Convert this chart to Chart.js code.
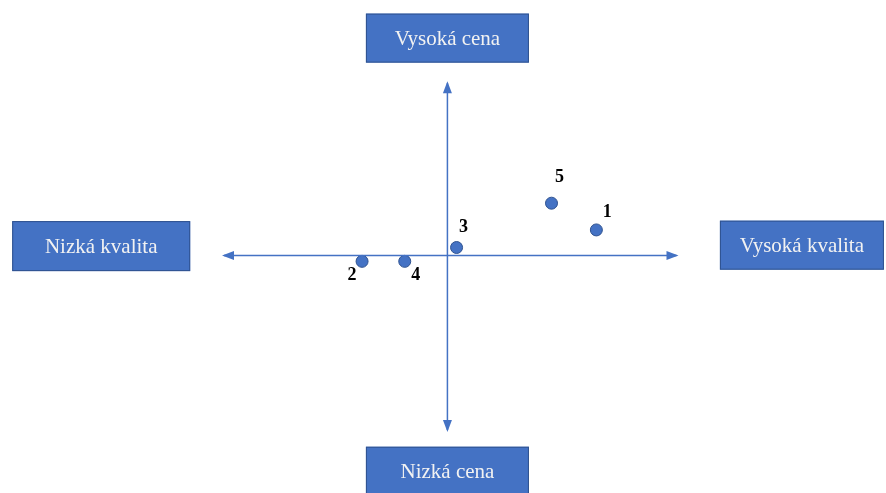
<!DOCTYPE html>
<html lang="cs">
<head>
<meta charset="UTF-8">
<title>Poziční mapa</title>
<script src="https://cdn.jsdelivr.net/npm/chart.js@4.4.1/dist/chart.umd.min.js"></script>
<style>
  body { margin: 0; background: #fff; }
  #wrap { width: 886px; height: 493px; }
</style>
</head>
<body>
<div id="wrap"><canvas id="mapa" width="886" height="493"></canvas></div>
<script>
// body na mape (kvalita = x, cena = y)
const names = ['1', '2', '3', '4', '5'];
const quality = [3.42, -1.96, 0.21, -0.98, 2.39];
const price = [1.09, -0.25, 0.34, -0.25, 2.23];

// osy
const axisX = [-5.13, 5.26];
const axisY = [-7.44, 7.35];

// popisky os
const boxTexts = ['Nizká kvalita', 'Vysoká kvalita', 'Vysoká cena', 'Nizká cena'];
const boxX = [-7.95, 8.14, 0, 0];
const boxY = [0.4, 0.44, 9.27, -9.2];

const blue = '#4472C4';
const dark = '#2F528F';

// posuny cisel u bodu v px
const labelShift = [[11, -18], [-10, 14], [7, -20], [11, 14], [8, -26]];
const boxSize = [[178, 50], [164, 49], [163, 49], [163, 49]];

const extras = {
  id: 'extras',
  afterDatasetsDraw(chart) {
    const ctx = chart.ctx;
    const xs = chart.scales.x, ys = chart.scales.y;
    ctx.save();

    // sipky na koncich os
    function arrow(x, y, dx, dy) {
      const len = 10, w = 4.5;
      ctx.beginPath();
      ctx.moveTo(x + dx * 2, y + dy * 2);
      ctx.lineTo(x - dx * len + dy * w, y - dy * len + dx * w);
      ctx.lineTo(x - dx * len - dy * w, y - dy * len - dx * w);
      ctx.closePath();
      ctx.fillStyle = blue;
      ctx.fill();
    }
    const cx = xs.getPixelForValue(0), cy = ys.getPixelForValue(0);
    arrow(xs.getPixelForValue(axisX[0]), cy, -1, 0);
    arrow(xs.getPixelForValue(axisX[1]), cy, 1, 0);
    arrow(cx, ys.getPixelForValue(axisY[1]), 0, -1);
    arrow(cx, ys.getPixelForValue(axisY[0]), 0, 1);

    // cisla bodu
    const meta = chart.getDatasetMeta(2);
    ctx.font = 'bold 18px "Liberation Serif", "Times New Roman", serif';
    ctx.fillStyle = '#000';
    ctx.textAlign = 'center';
    ctx.textBaseline = 'middle';
    meta.data.forEach((pt, i) => {
      ctx.fillText(names[i], pt.x + labelShift[i][0], pt.y + labelShift[i][1]);
    });

    // obdelniky s popisky
    ctx.font = '21px "Liberation Serif", "Times New Roman", serif';
    boxTexts.forEach((t, i) => {
      const bx = xs.getPixelForValue(boxX[i]);
      const by = ys.getPixelForValue(boxY[i]);
      const w = boxSize[i][0], h = boxSize[i][1];
      ctx.fillStyle = blue;
      ctx.fillRect(bx - w / 2, by - h / 2, w, h);
      ctx.strokeStyle = dark;
      ctx.lineWidth = 1;
      ctx.strokeRect(bx - w / 2 + 0.5, by - h / 2 + 0.5, w - 1, h - 1);
      ctx.fillStyle = '#f2f2f2';
      ctx.fillText(t, bx, by + 1);
    });
    ctx.restore();
  }
};

new Chart(document.getElementById('mapa'), {
  type: 'scatter',
  data: {
    datasets: [
      {
        data: [{ x: axisX[0], y: 0 }, { x: axisX[1], y: 0 }],
        showLine: true, borderColor: blue, borderWidth: 1.5, pointRadius: 0
      },
      {
        data: [{ x: 0, y: axisY[0] }, { x: 0, y: axisY[1] }],
        showLine: true, borderColor: blue, borderWidth: 1.5, pointRadius: 0
      },
      {
        data: quality.map((q, i) => ({ x: q, y: price[i] })),
        backgroundColor: blue, borderColor: dark, borderWidth: 1, pointRadius: 6
      }
    ]
  },
  options: {
    responsive: false,
    animation: false,
    layout: { padding: { left: 8, right: 0, top: 17, bottom: 0 } },
    plugins: { legend: { display: false }, tooltip: { enabled: false } },
    scales: {
      x: { min: -10.09, max: 9.91, display: false },
      y: { min: -9.83, max: 10.17, display: false }
    }
  },
  plugins: [extras]
});
</script>
</body>
</html>
